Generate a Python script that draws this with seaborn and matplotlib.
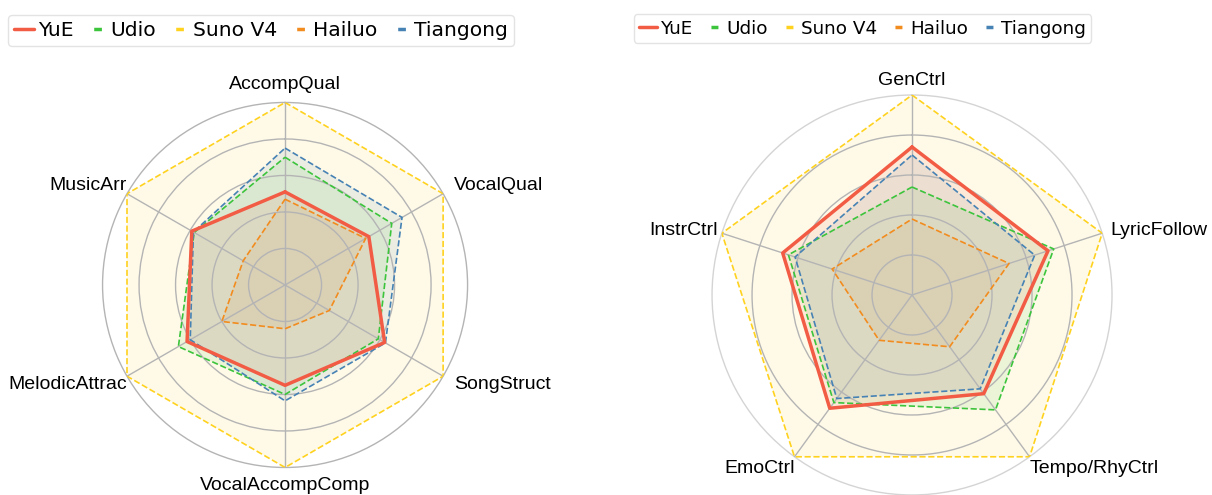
import numpy as np
import pandas as pd
import matplotlib
matplotlib.use("Agg")
import matplotlib.pyplot as plt
from matplotlib.lines import Line2D
import seaborn as sns

models = ["YuE", "Udio", "Suno V4", "Hailuo", "Tiangong"]
colors = ["#F25C45", "#3CC43C", "#FFD21F", "#F28C1E", "#4682B4"]

left_labels = ["AccompQual", "VocalQual", "SongStruct", "VocalAccompComp", "MelodicAttrac", "MusicArr"]
yue_left = [0.51, 0.53, 0.63, 0.55, 0.62, 0.59]
udio_left = [0.70, 0.675, 0.59, 0.60, 0.675, 0.575]
suno_left = [1.0, 1.0, 1.0, 1.0, 1.0, 1.0]
hailuo_left = [0.47, 0.51, 0.28, 0.24, 0.40, 0.265]
tiangong_left = [0.75, 0.74, 0.635, 0.635, 0.60, 0.58]

right_labels = ["GenCtrl", "LyricFollow", "Tempo/RhyCtrl", "EmoCtrl", "InstrCtrl"]
yue_right = [0.74, 0.715, 0.61, 0.70, 0.68]
udio_right = [0.54, 0.745, 0.71, 0.665, 0.65]
suno_right = [1.0, 1.0, 1.0, 1.0, 1.0]
hailuo_right = [0.38, 0.51, 0.32, 0.28, 0.42]
tiangong_right = [0.70, 0.645, 0.58, 0.64, 0.615]

sns.set_style("white")
plt.rcParams["font.family"] = ["DejaVu Sans"]
plt.rcParams["text.color"] = "black"
PX = 0.72  # points per pixel at dpi 100


def radar(ax, labels, series, outer_color, top_r, side_off):
    n = len(labels)
    angles = np.linspace(0, 2 * np.pi, n, endpoint=False)
    ax.set_theta_offset(np.pi / 2)
    ax.set_theta_direction(-1)
    ax.set_ylim(0, 1)

    # Suno at the back, YuE on top
    order = [2, 3, 1, 4, 0]
    for z, i in enumerate(order):
        vals = list(series[i]) + [series[i][0]]
        th = list(angles) + [2 * np.pi]
        df = pd.DataFrame({"theta": th, "r": vals})
        solid = models[i] == "YuE"
        sns.lineplot(data=df, x="theta", y="r", sort=False, ax=ax, color=colors[i],
                     linewidth=2.5 if solid else 1.2,
                     linestyle="-" if solid else "--", zorder=3 + z, legend=False)
        ax.fill(th, vals, color=colors[i], alpha=0.1, zorder=1 + 0.1 * z, linewidth=0)

    ax.set_axisbelow(False)
    ax.set_xticks(angles)
    ax.set_xticklabels([])
    ax.set_yticks([0.2, 0.4, 0.6, 0.8])
    ax.set_yticklabels([])
    ax.set_xlabel("")
    ax.set_ylabel("")
    ax.grid(True, color="#b4b4b4", linewidth=1.0)
    ax.spines["polar"].set_color(outer_color)
    ax.spines["polar"].set_linewidth(1.0)

    dx_r, dx_l, dy, dy2 = side_off
    font = dict(fontsize=14, color="black", family=["Liberation Sans", "DejaVu Sans"])
    for a, lab in zip(angles, labels):
        sx, sy = np.sin(a), np.cos(a)
        if abs(sx) < 0.1:
            ax.text(a, top_r, lab, ha="center", va="bottom" if sy > 0 else "top", **font)
            continue
        ha = "left" if sx > 0 else "right"
        ox = dx_r if sx > 0 else -dx_l
        if abs(sy) < 0.7:
            va = "center"
            oy = dy if sy > 0 else -dy
            ox = ox
        else:
            va = "top" if sy < 0 else "bottom"
            oy = -dy2 if sy < 0 else dy2
            ox = 0
        ax.annotate(lab, xy=(a, 1.0), xytext=(ox * PX, oy * PX), textcoords="offset points",
                    ha=ha, va=va, annotation_clip=False, **font)


fig = plt.figure(figsize=(12.12, 4.95), dpi=100)
ax1 = fig.add_axes([0.0846, 0.0556, 0.3012, 0.7374], projection="polar")
ax2 = fig.add_axes([0.5875, 0.0, 0.3300, 0.8081], projection="polar")

radar(ax1, left_labels, [yue_left, udio_left, suno_left, hailuo_left, tiangong_left],
      "#b4b4b4", 1.05, (11, 0, 8, 3))
radar(ax2, right_labels, [yue_right, udio_right, suno_right, hailuo_right, tiangong_right],
      "#d4d4d4", 1.03, (8, 4, 3, 3))


def legend_handles(fs):
    hl = fs * 1.0
    out = []
    for m, c in zip(models, colors):
        if m == "YuE":
            out.append(Line2D([0], [0], color=c, linewidth=2.5))
        else:
            on = 0.38 * hl
            off = hl - on
            out.append(Line2D([0], [0], color=c, linewidth=2.5,
                              linestyle=(off / 2.5, (on / 2.5, off / 2.5))))
    return out


for fs, cx in [(14.6, 0.2154), (13.2, 0.7116)]:
    leg = fig.legend(legend_handles(fs), models, loc="upper center", bbox_to_anchor=(cx, 0.99),
                     ncol=5, fontsize=fs, handlelength=1.0, handletextpad=0.2,
                     columnspacing=0.6, borderpad=0.3, frameon=True, edgecolor="#dddddd")
    for t in leg.get_texts():
        t.set_color("black")

fig.savefig("out.png", dpi=100)
